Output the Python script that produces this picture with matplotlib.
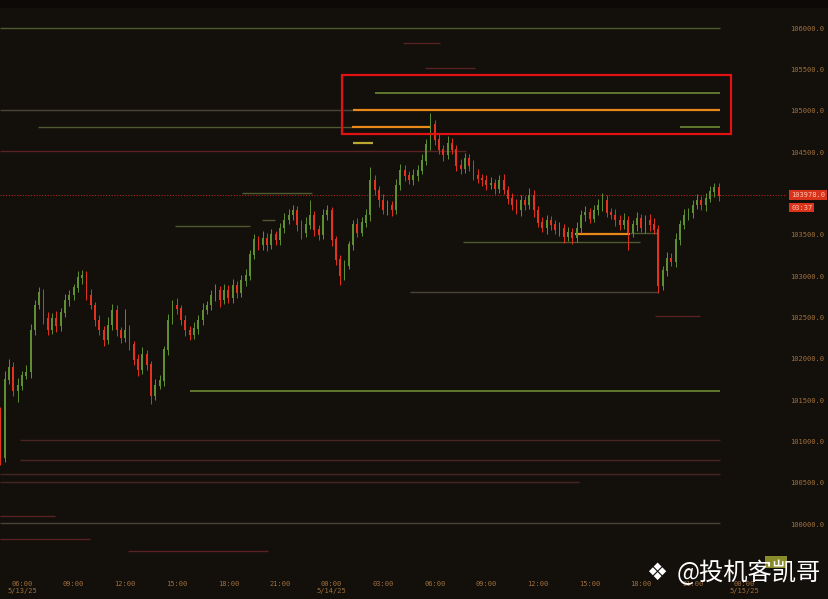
import matplotlib
matplotlib.use("Agg")
import matplotlib.pyplot as plt
from matplotlib.patches import Rectangle
import numpy as np

# --- candle data: 15 minute BTC candles, time in hours since 5/13/25 00:00 ---
first_time = 4.75
bar_hours = 0.25
first_open = 101350

closes = [
    100800, 101750, 101900, 101620, 101680, 101800, 101840, 102350, 102650, 102800,
    102490, 102350, 102490, 102400, 102560, 102710, 102770, 102860, 102980, 103010,
    102770, 102650, 102470, 102350, 102230, 102410, 102590, 102350, 102250, 102350,
    102170, 101990, 101870, 102050, 101930, 101560, 101680, 101740, 102110, 102470,
    102650, 102610, 102470, 102350, 102290, 102370, 102470, 102590, 102650, 102770,
    102830, 102710, 102830, 102740, 102890, 102800, 102950, 103010, 103260, 103440,
    103380, 103460, 103380, 103500, 103440, 103580, 103680, 103740, 103800, 103620,
    103530, 103620, 103740, 103560, 103500, 103740, 103800, 103440, 103200, 103010,
    103130, 103380, 103620, 103530, 103650, 103740, 104160, 104040, 103920, 103800,
    103860, 103800, 104100, 104280, 104220, 104160, 104220, 104280, 104400, 104590,
    104830, 104650, 104530, 104470, 104610, 104530, 104340, 104300, 104430, 104340,
    104220, 104180, 104160, 104100, 104120, 104060, 104160, 104040, 103940, 103860,
    103800, 103920, 103860, 103980, 103800, 103650, 103580, 103680, 103620, 103560,
    103580, 103480, 103530, 103460, 103580, 103740, 103770, 103700, 103800, 103860,
    103920, 103770, 103740, 103680, 103620, 103680, 103530, 103620, 103700, 103580,
    103680, 103620, 103560, 102890, 103070, 103220, 103170, 103440, 103620, 103740,
    103770, 103860, 103920, 103860, 103940, 104020, 104070, 103978,
]

up_wick = [
    70, 100, 100, 60, 90, 50, 80, 70, 60, 70,
    40, 80, 60, 90, 50, 70, 60, 50, 80, 60,
    50, 70, 40, 60, 50, 90, 70, 60, 40, 250,
    60, 50, 70, 90, 60, 40, 80, 60, 50, 70,
    60, 90, 40, 60, 50, 70, 60, 80, 50, 60,
    70, 50, 80, 60, 70, 50, 60, 80, 60, 70,
    50, 80, 60, 70, 50, 60, 80, 70, 60, 50,
    60, 90, 180, 50, 60, 70, 60, 40, 50, 60,
    70, 50, 60, 80, 60, 70, 160, 60, 50, 70,
    60, 50, 70, 80, 60, 50, 70, 60, 80, 70,
    140, 60, 70, 50, 80, 60, 50, 70, 60, 50,
    60, 70, 50, 60, 80, 50, 60, 70, 50, 60,
    70, 60, 50, 80, 60, 50, 70, 60, 50, 60,
    70, 50, 60, 50, 70, 60, 80, 50, 60, 70,
    80, 60, 50, 70, 60, 80, 50, 60, 70, 50,
    60, 70, 80, 60, 50, 70, 60, 80, 60, 70,
    50, 60, 70, 50, 60, 70, 60, 50,
]

dn_wick = [
    80, 50, 60, 70, 140, 60, 50, 70, 60, 50,
    70, 60, 50, 80, 60, 50, 70, 60, 50, 70,
    60, 50, 70, 60, 80, 50, 60, 70, 60, 50,
    60, 70, 80, 50, 60, 110, 60, 50, 70, 60,
    50, 70, 60, 80, 60, 50, 70, 60, 50, 60,
    70, 80, 50, 60, 70, 60, 50, 70, 60, 50,
    70, 60, 80, 50, 60, 70, 60, 50, 60, 70,
    80, 60, 50, 70, 60, 50, 60, 80, 70, 120,
    60, 50, 70, 60, 50, 60, 70, 60, 80, 50,
    60, 70, 50, 60, 70, 50, 60, 70, 50, 60,
    70, 60, 50, 80, 60, 50, 70, 60, 50, 70,
    60, 50, 70, 60, 50, 70, 60, 50, 70, 60,
    50, 70, 60, 50, 80, 60, 50, 70, 60, 50,
    70, 80, 60, 70, 50, 60, 70, 60, 50, 60,
    70, 60, 50, 70, 60, 50, 210, 60, 70, 50,
    60, 70, 50, 90, 60, 70, 50, 60, 70, 50,
    60, 70, 50, 60, 70, 50, 60, 70,
]

# --- liquidity levels: price, start hour, end hour, kind ---
level_prices = [106000, 105820, 105520, 105210, 105010, 105010, 104800, 104800, 104800,
                104610, 104510, 104000, 103680, 103600, 103520, 103510, 103410, 102810,
                102520, 101610, 101020, 100780, 100610, 100510, 100100, 100020, 99820, 99680]
level_starts = [4.72, 28.15, 29.43, 26.52, 4.72, 25.24, 6.93, 25.19, 44.26,
                25.24, 4.72, 18.79, 19.95, 14.90, 41.35, 38.15, 31.64, 28.56,
                42.80, 15.77, 5.88, 5.88, 4.72, 4.72, 4.72, 4.72, 4.72, 12.16]
level_ends = [46.58, 30.30, 32.34, 46.58, 25.24, 46.58, 25.19, 29.72, 46.58,
              26.41, 31.80, 22.86, 20.71, 19.26, 42.92, 41.35, 41.93, 42.98,
              45.42, 46.58, 46.58, 46.58, 46.58, 38.40, 7.92, 46.58, 9.95, 20.30]
level_kinds = ["olive", "red", "red", "green", "grey", "orange", "olive", "orange", "green",
               "yellow", "red", "olive", "olive", "olive", "olive", "orange", "olive", "grey",
               "red", "green", "maroon", "maroon", "maroon", "maroon", "red", "grey", "red", "red"]

zone_time = [24.6, 47.22]
zone_price = [104718, 105432]

last_price = 103978
countdown = "03:37"

tick_hours = [6, 9, 12, 15, 18, 21, 24, 27, 30, 33, 36, 39, 42, 45, 48]
tick_labels = ["06:00\n5/13/25", "09:00", "12:00", "15:00", "18:00", "21:00",
               "00:00\n5/14/25", "03:00", "06:00", "09:00", "12:00", "15:00",
               "18:00", "21:00", "00:00\n5/15/25"]
price_ticks = [100000, 100500, 101000, 101500, 102000, 102500, 103000,
               103500, 104000, 104500, 105000, 105500, 106000]

# --- styles ---
BG = "#130f0b"
UP = "#5f8f33"
DOWN = "#e3321d"
LABEL = "#a0703c"
kind_style = {
    "olive": ("#4f5a2e", 1.0),
    "green": ("#6c8a34", 1.2),
    "grey": ("#4a4436", 1.0),
    "orange": ("#e8891a", 1.6),
    "yellow": ("#b9a832", 1.6),
    "red": ("#5a2222", 1.0),
    "maroon": ("#4a2420", 1.0),
}

W, H = 829, 599
fig = plt.figure(figsize=(W / 100, H / 100), dpi=100, facecolor=BG)
ax = fig.add_axes([0, 1 - 568 / H, 787 / W, 560 / H])
ax.set_facecolor(BG)

# darker strip along the top
fig.patches.append(Rectangle((0, 1 - 8 / H), 1, 8 / H, transform=fig.transFigure,
                             facecolor="#0c0907", edgecolor="none"))

# levels
for p, t0, t1, k in zip(level_prices, level_starts, level_ends, level_kinds):
    c, lw = kind_style[k]
    ax.hlines(p, t0, t1, colors=c, linewidth=lw, zorder=1)

# candles
closes = np.array(closes, dtype=float)
opens = np.concatenate([[first_open], closes[:-1]])
highs = np.maximum(opens, closes) + np.array(up_wick)
lows = np.minimum(opens, closes) - np.array(dn_wick)
times = first_time + bar_hours * np.arange(len(closes))
colors = [UP if c >= o else DOWN for o, c in zip(opens, closes)]
ax.vlines(times, lows, highs, colors=colors, linewidth=0.7, zorder=3)
ax.bar(times, np.abs(closes - opens) + 8, bottom=np.minimum(opens, closes) - 4,
       width=bar_hours * 0.45, color=colors, linewidth=0, zorder=4)

# current price line
ax.axhline(last_price, color="#b0281e", linestyle=(0, (1, 1.5)), linewidth=0.8, zorder=2)

# highlighted zone
ax.add_patch(Rectangle((zone_time[0], zone_price[0]), zone_time[1] - zone_time[0],
                       zone_price[1] - zone_price[0], fill=False,
                       edgecolor="#e31212", linewidth=1.6, zorder=5))

ax.set_xlim(4.721, 50.477)
ax.set_ylim(99470, 106242)

for s in ax.spines.values():
    s.set_visible(False)

ax.yaxis.tick_right()
ax.set_yticks(price_ticks)
ax.set_yticklabels([f"{p:.1f}" for p in price_ticks])
ax.set_xticks(tick_hours)
ax.set_xticklabels(tick_labels)
ax.tick_params(axis="both", length=0, colors=LABEL, labelsize=5)
ax.tick_params(axis="y", pad=2)
ax.tick_params(axis="x", pad=9)
for lab in ax.get_xticklabels() + ax.get_yticklabels():
    lab.set_family("DejaVu Sans Mono")
for lab in ax.get_yticklabels():
    lab.set_horizontalalignment("left")

# last price tag and countdown
ax.annotate(f"{last_price:.1f}", xy=(1.0, last_price), xycoords=("axes fraction", "data"),
            xytext=(3, 0), textcoords="offset points", va="center", ha="left",
            fontsize=5, family="DejaVu Sans Mono", color="#ffc2b0",
            bbox=dict(boxstyle="square,pad=0.25", fc="#d9331c", ec="none"), annotation_clip=False)
ax.annotate(countdown, xy=(1.0, last_price), xycoords=("axes fraction", "data"),
            xytext=(3, -9), textcoords="offset points", va="center", ha="left",
            fontsize=5, family="DejaVu Sans Mono", color="#ffc2b0",
            bbox=dict(boxstyle="square,pad=0.25", fc="#d9331c", ec="none"), annotation_clip=False)

# corner button and watermark
fig.patches.append(Rectangle((765 / W, 1 - 568 / H), 22 / W, 12 / H, transform=fig.transFigure,
                             facecolor="#8a8c2c", edgecolor="none", zorder=6))
fig.text(657 / W, 1 - 573 / H, "\u2756", ha="center", va="center", fontsize=17,
         color="white", family="DejaVu Sans", zorder=7)
fig.text(821 / W, 1 - 573 / H, "@投机客凯哥", ha="right", va="center", fontsize=17.5,
         color="white", family=["Noto Sans CJK SC", "DejaVu Sans"], zorder=7)

fig.savefig("out.png", dpi=100, facecolor=fig.get_facecolor())
